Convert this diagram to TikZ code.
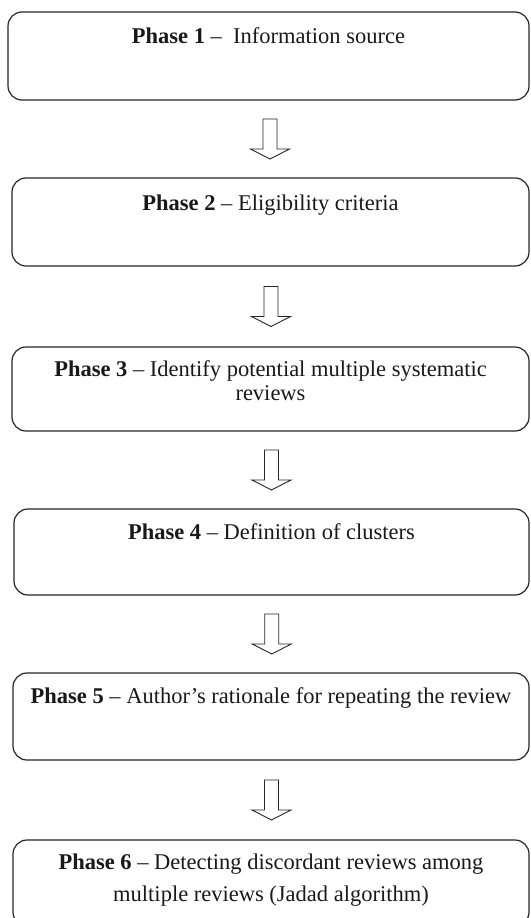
\documentclass[tikz,border=0pt]{standalone}
\usepackage{fontspec}
\setmainfont{Liberation Serif}
\usetikzlibrary{calc}
\begin{document}
\begin{tikzpicture}[x=1pt,y=-1pt,
  box/.style={draw=black!85, line width=1.2pt, rounded corners=14pt, inner sep=0pt},
  lbl/.style={font=\fontsize{22.5}{32.5}\selectfont, align=center, inner sep=0pt, anchor=base, text=black!90},
  tight/.style={font=\fontsize{22.5}{24}\selectfont},
  downarrow/.pic={\draw[line width=0.9pt, draw=black!85, line join=miter] (-7,-20) -- (7,-20) -- (7,10) -- (19.5,10) -- (0,20) -- (-19.5,10) -- (-7,10) -- cycle;}
]
\useasboundingbox (0,0) rectangle (530,918);
\clip (0,0) rectangle (530,918);
\node[box, minimum width=521pt, minimum height=88pt] (b1) at (268.5,56) {};
\node[box, minimum width=517pt, minimum height=88pt] (b2) at (270.5,222) {};
\node[box, minimum width=517pt, minimum height=84pt] (b3) at (270.5,389) {};
\node[box, minimum width=515pt, minimum height=86pt] (b4) at (271.5,552) {};
\node[box, minimum width=516pt, minimum height=87pt] (b5) at (271,716.5) {};
\node[box, minimum width=516pt, minimum height=86pt] (b6) at (271,883) {};

\node[lbl] (t1) at ([yshift=-32pt]b1.north) {\textbf{Phase 1} --\ \ Information source};
\node[lbl] (t2) at ([yshift=-33pt]b2.north) {\textbf{Phase 2} -- Eligibility criteria};
\node[lbl, tight] (t3) at ([yshift=-54pt]b3.north) {\textbf{Phase 3} -- Identify potential multiple systematic\\reviews};
\node[lbl] (t4) at ([yshift=-31pt]b4.north) {\textbf{Phase 4} -- Definition of clusters};
\node[lbl] (t5) at ([yshift=-31pt]b5.north) {\textbf{Phase 5} -- Author’s rationale for repeating the review};
\node[lbl] (t6) at ([yshift=-62.5pt]b6.north) {\textbf{Phase 6} -- Detecting discordant reviews among\\multiple reviews (Jadad algorithm)};

\foreach \a/\b in {b1/b2,b2/b3,b3/b4,b4/b5,b5/b6}{
  \coordinate (m-\a) at ($(\a.south)!0.5!(\b.north)$);
  \pic at ([xshift=0.5pt]m-\a) {downarrow};
}
\end{tikzpicture}
\end{document}
